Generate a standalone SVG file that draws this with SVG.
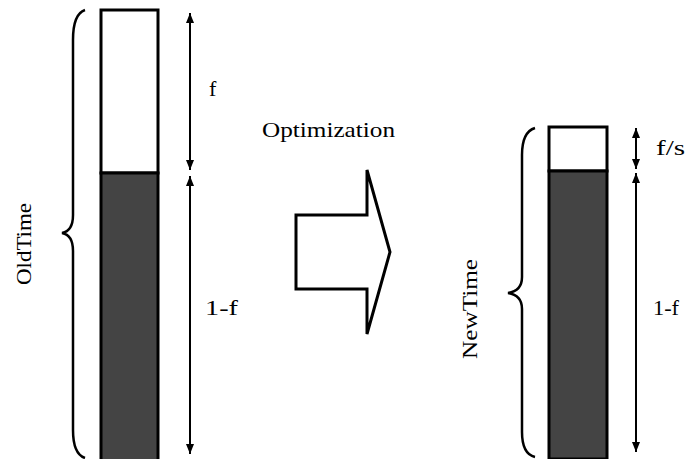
<svg xmlns="http://www.w3.org/2000/svg" width="687" height="459" viewBox="0 0 687 459">
<style>
text{font-family:"Liberation Serif","Times New Roman",Times,"DejaVu Serif",serif;font-size:22px;fill:#000}
.bar{stroke:#000;stroke-width:3}
.w{fill:#fff}
.d{fill:#444}
.br{fill:none;stroke:#000;stroke-width:2.5}
.ar{stroke:#000;stroke-width:2;fill:none;marker-start:url(#ah);marker-end:url(#ah)}
</style>
<defs>
<marker id="ah" viewBox="0 0 10 10" refX="10" refY="5" markerWidth="5" markerHeight="5" orient="auto-start-reverse" markerUnits="strokeWidth">
<path d="M0,1 L10,5 L0,9 z" fill="#000"/>
</marker>
</defs>
<g id="old-bar">
<rect class="bar w" x="101" y="10" width="57" height="163"/>
<rect class="bar d" x="101" y="173" width="57" height="290"/>
</g>
<g id="old-brace">
<path class="br" d="M85 10 Q73 14 73 40 L73 215 Q73 231 62 233 Q73 235 73 251 L73 430 Q73 454 85 458"/>
<text transform="translate(31,244) rotate(-90)" text-anchor="middle" textLength="82" lengthAdjust="spacingAndGlyphs">OldTime</text>
</g>
<g id="new-bar">
<rect class="bar w" x="549" y="127" width="58" height="44"/>
<rect class="bar d" x="549" y="171" width="58" height="288"/>
</g>
<g id="new-brace">
<path class="br" d="M535 128 Q522 132 522 155 L522 277 Q522 291 508 293 Q522 295 522 309 L522 432 Q522 454 535 457"/>
<text transform="translate(477,309) rotate(-90)" text-anchor="middle" textLength="100" lengthAdjust="spacingAndGlyphs">NewTime</text>
</g>
<g id="optimization">
<polygon points="296,215 367,215 367,170 390,252 367,334 367,289 296,289" fill="#fff" stroke="#000" stroke-width="3" stroke-linejoin="miter"/>
<text x="262" y="137" textLength="133" lengthAdjust="spacingAndGlyphs">Optimization</text>
</g>
<g id="connectors">
<line class="ar" x1="190" y1="13" x2="190" y2="170"/>
<line class="ar" x1="190" y1="176" x2="190" y2="454"/>
<line class="ar" x1="636" y1="128" x2="636" y2="169"/>
<line class="ar" x1="636" y1="173" x2="636" y2="452"/>
</g>
<g id="labels">
<text x="209" y="96">f</text>
<text x="205" y="315" textLength="33" lengthAdjust="spacingAndGlyphs">1-f</text>
<text x="656" y="155" textLength="29" lengthAdjust="spacingAndGlyphs">f/s</text>
<text x="653" y="315" textLength="26" lengthAdjust="spacingAndGlyphs">1-f</text>
</g>
</svg>
